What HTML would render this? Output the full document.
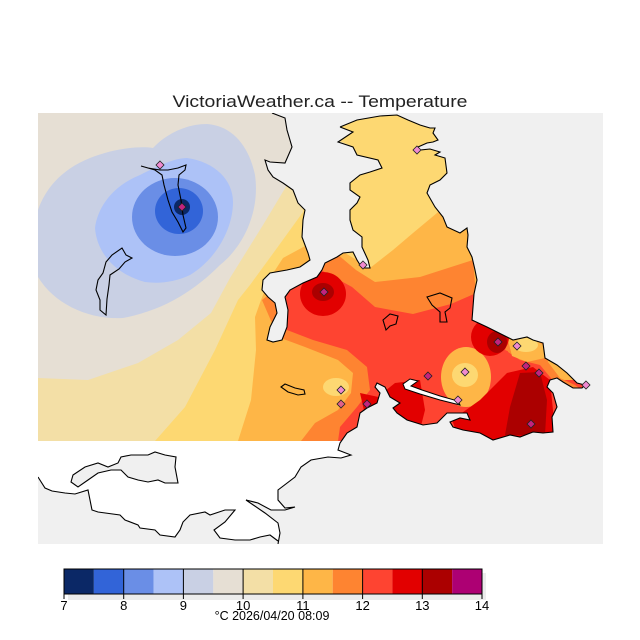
<!DOCTYPE html>
<html><head><meta charset="utf-8"><style>
html,body{margin:0;padding:0;background:#fff;}
svg{display:block;}
text{font-family:"Liberation Sans",sans-serif;}
</style></head><body>
<svg width="640" height="640" viewBox="0 0 640 640" xmlns="http://www.w3.org/2000/svg">
<defs>
<clipPath id="cr"><rect x="38" y="113" width="565" height="328"/></clipPath>
<clipPath id="mp"><rect x="38" y="113" width="565" height="431"/></clipPath>
</defs>
<rect x="0" y="0" width="640" height="640" fill="#fff"/>
<text x="320" y="107" font-size="17" fill="#222" text-anchor="middle" textLength="295" lengthAdjust="spacingAndGlyphs">VictoriaWeather.ca -- Temperature</text>
<rect x="38" y="441" width="565" height="103" fill="#fff"/>
<g clip-path="url(#cr)">
<rect x="38" y="113" width="565" height="328" fill="#e6dfd4"/>
<path d="M38,210 C45,190 60,170 90,158 C115,148 140,146 153,148 C165,135 185,124 207,124 C235,126 250,150 255,175 C260,210 245,245 220,265 C195,290 165,310 123,318 C90,320 55,305 38,277Z" fill="#c9d0e4"/>
<path d="M95,228 C98,205 115,185 140,175 C160,165 175,158 187,158 C215,162 233,180 233,202 C233,230 215,260 190,275 C175,282 160,284 145,282 C118,275 97,255 95,228Z" fill="#adc2f7"/>
<ellipse cx="175" cy="217" rx="43" ry="39" fill="#6a8ee6"/>
<ellipse cx="179" cy="211" rx="24" ry="23" fill="#3264d8"/>
<circle cx="182" cy="207" r="8" fill="#0b2866"/>
<path d="M38,378 L88,380 L138,363 L178,340 L211,313 L230,278 L263,225 L287,185 L300,113 L603,113 L603,441 L38,441Z" fill="#f3dfa6"/>
<path d="M155,441 L185,407 L215,350 L238,300 L250,285 L277,248 L303,212 L310,113 L603,113 L603,441Z" fill="#fdd872"/>
<path d="M338,140 L353,147 L350,155 L340,152Z" fill="#f3dfa6"/>
<path d="M238,441 L251,400 L256,350 L255,317 L261,300 L270,278 L283,258 L307,245 L340,250 L370,268 L393,250 L413,233 L437,213 L480,180 L603,180 L603,441Z" fill="#feb647"/>
<path d="M262,300 L279,287 L306,267 L337,254 L356,270 L375,282 L420,277 L473,260 L480,340 L505,334 L560,395 L603,395 L603,441 L301,441 L315,423 L338,410 L351,393 L353,373 L338,360 L305,347 L278,337Z" fill="#fe8431"/>
<path d="M290,280 L321,270 L352,287 L375,307 L413,314 L451,304 L474,294 L478,317 L500,330 L510,336 L505,350 L520,356 L545,358 L560,380 L603,380 L603,441 L338,441 L340,427 L357,407 L370,390 L367,367 L347,350 L313,340 L287,330 L280,310Z" fill="#fe4431"/>
<path d="M505,334 L530,334 L545,345 L548,362 L560,378 L575,385 L585,392 L570,392 L555,383 L540,365 L520,360 L508,352Z" fill="#fe8431"/>
<path d="M507,336 L530,335 L543,345 L545,358 L527,362 L512,356Z" fill="#feb647"/>
<ellipse cx="526" cy="345" rx="12" ry="7" fill="#fdd872"/>
<ellipse cx="336" cy="387" rx="13" ry="9" fill="#fdd872"/>
<ellipse cx="466" cy="377" rx="25" ry="30" fill="#feb647"/>
<ellipse cx="465" cy="375" rx="13" ry="12" fill="#fdd872"/>
<ellipse cx="323" cy="294" rx="23" ry="22" fill="#e20000"/>
<ellipse cx="323" cy="292" rx="11" ry="9" fill="#ab0000"/>
<ellipse cx="490" cy="337" rx="19" ry="19" fill="#e20000"/>
<ellipse cx="497" cy="342" rx="10" ry="11" fill="#ab0000"/>
<path d="M507,373 L533,367 L550,380 L556,441 L460,441 L452,420 L480,400Z" fill="#e20000"/>
<path d="M520,373 L540,372 L547,400 L545,435 L505,435 L510,407Z" fill="#ab0000"/>
<path d="M380,395 L395,383 L420,380 L425,410 L420,430 L400,420 L385,415Z" fill="#e20000"/>
<path d="M360,393 L383,398 L383,410 L365,415Z" fill="#e20000"/>
</g>
<g fill="#f0f0f0" stroke="none">
<path d="M272,113 L285,118 L287,130 L292,147 L285,163 L270,162 L265,160 L268,170 L273,177 L283,183 L293,190 L298,203 L305,210 L303,220 L302,237 L308,253 L310,260 L300,267 L287,270 L270,273 L263,280 L262,290 L268,297 L275,303 L277,313 L270,327 L267,340 L273,342 L282,340 L287,327 L288,310 L285,297 L290,290 L303,283 L317,277 L322,270 L325,263 L337,257 L343,253 L353,252 L357,260 L362,268 L370,268 L368,260 L362,247 L362,237 L353,230 L350,220 L350,210 L357,203 L360,197 L350,190 L350,183 L360,175 L370,172 L382,168 L378,160 L357,155 L353,147 L338,142 L353,132 L340,127 L340,113Z"/>
<path d="M340,113 L340,127 L357,120 L380,116 L397,115 L408,120 L420,125 L430,128 L435,128 L433,133 L438,140 L433,142 L427,143 L418,147 L420,150 L430,149 L440,152 L435,155 L445,158 L447,173 L440,180 L430,185 L427,193 L435,207 L443,217 L447,227 L460,233 L467,228 L468,235 L467,247 L472,257 L475,270 L477,280 L474,294 L472,320 L487,327 L507,337 L513,340 L527,337 L533,340 L543,343 L545,358 L557,365 L567,373 L577,383 L585,385 L582,388 L573,388 L563,382 L557,378 L550,380 L547,387 L553,393 L557,407 L552,417 L553,432 L543,433 L533,432 L520,437 L510,435 L493,440 L480,433 L463,430 L453,427 L450,422 L460,418 L470,420 L467,413 L447,413 L437,423 L423,425 L407,420 L397,413 L393,408 L400,403 L390,397 L385,387 L377,383 L375,387 L380,393 L377,403 L367,408 L360,413 L357,427 L347,433 L340,443 L338,450 L351,455 L341,458 L328,457 L311,460 L301,467 L295,477 L278,490 L278,500 L285,508 L295,507 L285,510 L271,510 L258,503 L246,500 L265,513 L278,523 L280,533 L278,544 L603,544 L603,113Z"/>
<path d="M38,477 L45,488 L52,491 L65,493 L75,494 L88,490 L90,500 L92,510 L98,512 L120,515 L125,520 L138,525 L140,528 L155,530 L160,535 L175,537 L180,530 L183,522 L190,515 L205,512 L210,515 L225,510 L235,510 L225,522 L214,530 L220,538 L235,540 L250,540 L260,537 L270,535 L278,541 L278,544 L38,544Z"/>
<path d="M71,482 L73,475 L85,467 L98,463 L108,467 L118,463 L121,457 L131,455 L148,455 L155,452 L165,455 L176,457 L175,467 L178,483 L165,483 L158,480 L148,482 L138,480 L128,477 L121,470 L111,470 L98,473 L88,480 L78,487Z"/>
</g>
<g fill="#fff" stroke="#000" stroke-width="1">
<path d="M403,384 L410,379 L418,381 L411,386 L422,390 L440,396 L458,401 L460,405 L440,400 L420,394 L405,389Z"/>
</g>
<g fill="none" stroke="#000" stroke-width="1.1" clip-path="url(#mp)">
<path d="M272,113 L285,118 L287,130 L292,147 L285,163 L270,162 L265,160 L268,170 L273,177 L283,183 L293,190 L298,203 L305,210 L303,220 L302,237 L308,253 L310,260 L300,267 L287,270 L270,273 L263,280 L262,290 L268,297 L275,303 L277,313 L270,327 L267,340 L273,342 L282,340 L287,327 L288,310 L285,297 L290,290 L303,283 L317,277 L322,270 L325,263 L337,257 L343,253 L353,252 L357,260 L362,268 L370,268 L368,260 L362,247 L362,237 L353,230 L350,220 L350,210 L357,203 L360,197 L350,190 L350,183 L360,175 L370,172 L382,168 L378,160 L357,155 L353,147 L338,142 L353,132 L340,127"/>
<path d="M340,127 L357,120 L380,116 L397,115 L408,120 L420,125 L430,128 L435,128 L433,133 L438,140 L433,142 L427,143 L418,147 L420,150 L430,149 L440,152 L435,155 L445,158 L447,173 L440,180 L430,185 L427,193 L435,207 L443,217 L447,227 L460,233 L467,228 L468,235 L467,247 L472,257 L475,270 L477,280 L474,294 L472,320 L487,327 L507,337 L513,340 L527,337 L533,340 L543,343 L545,358 L557,365 L567,373 L577,383 L585,385 L582,388 L573,388 L563,382 L557,378 L550,380 L547,387 L553,393 L557,407 L552,417 L553,432 L543,433 L533,432 L520,437 L510,435 L493,440 L480,433 L463,430 L453,427 L450,422 L460,418 L470,420 L467,413 L447,413 L437,423 L423,425 L407,420 L397,413 L393,408 L400,403 L390,397 L385,387 L377,383 L375,387 L380,393 L377,403 L367,408 L360,413 L357,427 L347,433 L340,443 L338,450 L351,455 L341,458 L328,457 L311,460 L301,467 L295,477 L278,490 L278,500 L285,508 L295,507 L285,510 L271,510 L258,503 L246,500 L265,513 L278,523 L280,533 L278,544"/>
<path d="M38,477 L45,488 L52,491 L65,493 L75,494 L88,490 L90,500 L92,510 L98,512 L120,515 L125,520 L138,525 L140,528 L155,530 L160,535 L175,537 L180,530 L183,522 L190,515 L205,512 L210,515 L225,510 L235,510 L225,522 L214,530 L220,538 L235,540 L250,540 L260,537 L270,535 L278,541"/>
<path d="M71,482 L73,475 L85,467 L98,463 L108,467 L118,463 L121,457 L131,455 L148,455 L155,452 L165,455 L176,457 L175,467 L178,483 L165,483 L158,480 L148,482 L138,480 L128,477 L121,470 L111,470 L98,473 L88,480 L78,487Z"/>
<path d="M141,166 L155,170 L162,175 L164,185 L168,200 L172,212 L178,222 L183,232 L186,228 L183,215 L181,200 L178,185 L179,175 L185,170 L186,165 L178,168 L168,170 L160,170 L148,168Z"/>
<path d="M122,248 L126,255 L132,258 L125,262 L119,269 L110,275 L109,285 L107,299 L106,315 L100,310 L100,300 L96,290 L98,280 L103,273 L106,262 L112,255Z"/>
<path d="M281,387 L285,384 L295,388 L304,390 L305,394 L298,395 L288,392Z"/>
<path d="M427,297 L440,293 L452,298 L450,308 L445,312 L447,322 L440,322 L440,312 L432,305Z"/>
<path d="M383,320 L390,314 L398,316 L396,324 L390,326 L386,330Z"/>
</g>
<g stroke="#222" stroke-width="0.8">
<path d="M160,161 l4,4 l-4,4 l-4,-4Z" fill="#f08ad0"/>
<path d="M182,203 l4,4 l-4,4 l-4,-4Z" fill="#c2247f"/>
<path d="M417,146 l4,4 l-4,4 l-4,-4Z" fill="#f08ad0"/>
<path d="M363,261 l4,4 l-4,4 l-4,-4Z" fill="#f08ad0"/>
<path d="M324,288 l4,4 l-4,4 l-4,-4Z" fill="#c2247f"/>
<path d="M498,338 l4,4 l-4,4 l-4,-4Z" fill="#c2247f"/>
<path d="M517,342 l4,4 l-4,4 l-4,-4Z" fill="#f08ad0"/>
<path d="M526,362 l4,4 l-4,4 l-4,-4Z" fill="#c2247f"/>
<path d="M539,369 l4,4 l-4,4 l-4,-4Z" fill="#c2247f"/>
<path d="M586,381 l4,4 l-4,4 l-4,-4Z" fill="#f08ad0"/>
<path d="M465,368 l4,4 l-4,4 l-4,-4Z" fill="#f08ad0"/>
<path d="M428,372 l4,4 l-4,4 l-4,-4Z" fill="#c2247f"/>
<path d="M458,396 l4,4 l-4,4 l-4,-4Z" fill="#f08ad0"/>
<path d="M341,386 l4,4 l-4,4 l-4,-4Z" fill="#f08ad0"/>
<path d="M341,400 l4,4 l-4,4 l-4,-4Z" fill="#e0608a"/>
<path d="M367,400 l4,4 l-4,4 l-4,-4Z" fill="#c2247f"/>
<path d="M531,420 l4,4 l-4,4 l-4,-4Z" fill="#c2247f"/>
</g>
<rect x="68" y="573" width="418" height="27" fill="#ececec"/>
<g stroke="none">
<rect x="64" y="569" width="29.86" height="25" fill="#0b2866"/>
<rect x="93.86" y="569" width="29.86" height="25" fill="#3264d8"/>
<rect x="123.71" y="569" width="29.86" height="25" fill="#6a8ee6"/>
<rect x="153.57" y="569" width="29.86" height="25" fill="#adc2f7"/>
<rect x="183.43" y="569" width="29.86" height="25" fill="#c9d0e4"/>
<rect x="213.29" y="569" width="29.86" height="25" fill="#e6dfd4"/>
<rect x="243.14" y="569" width="29.86" height="25" fill="#f3dfa6"/>
<rect x="273" y="569" width="29.86" height="25" fill="#fdd872"/>
<rect x="302.86" y="569" width="29.86" height="25" fill="#feb647"/>
<rect x="332.71" y="569" width="29.86" height="25" fill="#fe8431"/>
<rect x="362.57" y="569" width="29.86" height="25" fill="#fe4431"/>
<rect x="392.43" y="569" width="29.86" height="25" fill="#e20000"/>
<rect x="422.29" y="569" width="29.86" height="25" fill="#ab0000"/>
<rect x="452.14" y="569" width="29.86" height="25" fill="#ad0073"/>
</g>
<rect x="64" y="569" width="418" height="25" fill="none" stroke="#000" stroke-width="1"/>
<g stroke="#000" stroke-width="1">
<line x1="123.7" y1="569" x2="123.7" y2="599"/>
<line x1="183.4" y1="569" x2="183.4" y2="599"/>
<line x1="243.1" y1="569" x2="243.1" y2="599"/>
<line x1="302.9" y1="569" x2="302.9" y2="599"/>
<line x1="362.6" y1="569" x2="362.6" y2="599"/>
<line x1="422.3" y1="569" x2="422.3" y2="599"/>
<line x1="64" y1="594" x2="64" y2="599"/>
<line x1="482" y1="594" x2="482" y2="599"/>
</g>
<g font-size="13" fill="#000" text-anchor="middle">
<text x="64" y="610">7</text>
<text x="123.7" y="610">8</text>
<text x="183.4" y="610">9</text>
<text x="243.1" y="610">10</text>
<text x="302.9" y="610">11</text>
<text x="362.6" y="610">12</text>
<text x="422.3" y="610">13</text>
<text x="482" y="610">14</text>
<text x="272" y="620" font-size="12.5">°C  2026/04/20 08:09</text>
</g>
</svg>
</body></html>
